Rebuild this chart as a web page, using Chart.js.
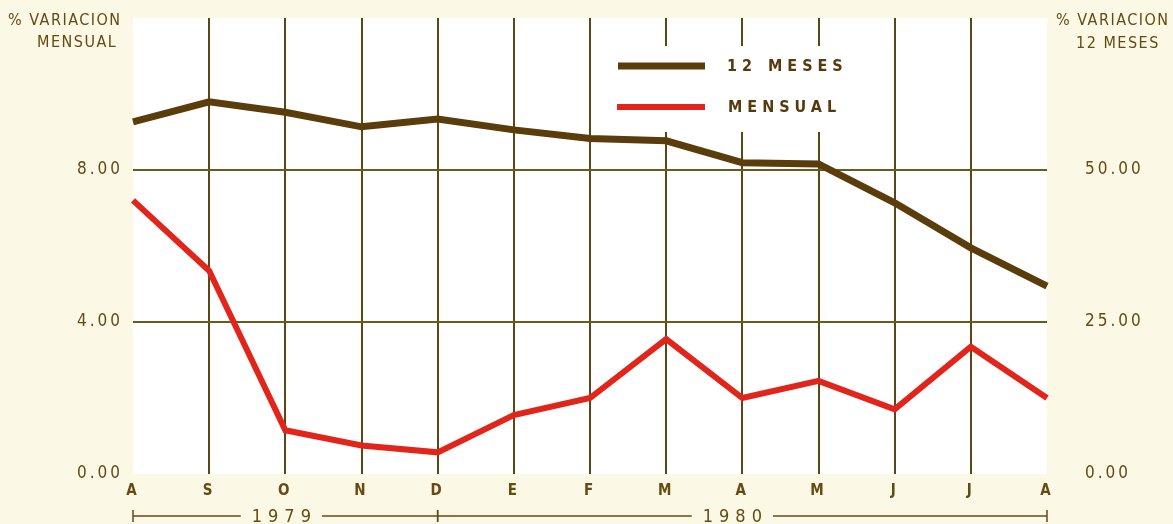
<!DOCTYPE html>
<html>
<head>
<meta charset="utf-8">
<script src="https://cdn.jsdelivr.net/npm/chart.js@4.4.1/dist/chart.umd.min.js"></script>
<style>
  html, body { margin: 0; padding: 0; background: #fcf8e6; }
  #wrap { width: 1173px; height: 524px; }
</style>
</head>
<body>
<div id="wrap"><canvas id="chart" width="1173" height="524"></canvas></div>
<script>
// datos (ago 1979 - ago 1980)
const meses = ["A", "S", "O", "N", "D", "E", "F", "M", "A", "M", "J", "J", "A"];
const doceMeses = [57.9, 61.2, 59.5, 57.1, 58.4, 56.6, 55.2, 54.8, 51.2, 51.0, 44.6, 37.2, 30.9];
const mensual = [7.2, 5.35, 1.15, 0.75, 0.57, 1.55, 2.0, 3.55, 2.0, 2.45, 1.7, 3.35, 2.0];
const ticksMensual = [0, 4, 8];
const ticks12Meses = [0, 25, 50];
const anios = ["1979", "1980"];
const anioDesde = [0, 4];
const anioHasta = [4, 12];

const cafe = "#5b3c0b";
const rojo = "#e1251b";
const tinta = "#654a12";
const grilla = "#5a4716";
const fuente = "'DejaVu Sans Condensed', 'DejaVu Sans', sans-serif";

const fondoPlugin = {
  id: "fondo",
  beforeDraw(chart) {
    const { ctx, chartArea: a } = chart;
    ctx.save();
    ctx.fillStyle = "#fcf8e6";
    ctx.fillRect(0, 0, chart.width, chart.height);
    ctx.fillStyle = "#ffffff";
    ctx.fillRect(a.left, a.top, a.right - a.left, a.bottom - a.top);
    ctx.restore();
    // espaciado de letras para las etiquetas de los ejes
    ctx.letterSpacing = "3px";
  },
};

// leyenda dentro del área, tapa la grilla
const leyendaPlugin = {
  id: "leyenda",
  beforeDatasetsDraw(chart) {
    const { ctx } = chart;
    ctx.save();
    ctx.fillStyle = "#ffffff";
    ctx.fillRect(604, 46, 272, 86);
    ctx.lineCap = "butt";
    ctx.lineWidth = 7;
    ctx.strokeStyle = cafe;
    ctx.beginPath();
    ctx.moveTo(618, 66);
    ctx.lineTo(705, 66);
    ctx.stroke();
    ctx.lineWidth = 6;
    ctx.strokeStyle = rojo;
    ctx.beginPath();
    ctx.moveTo(617, 107);
    ctx.lineTo(705, 107);
    ctx.stroke();
    ctx.fillStyle = "#563a0c";
    ctx.font = "bold 16px " + fuente;
    ctx.textBaseline = "middle";
    ctx.letterSpacing = "5px";
    ctx.fillText("12", 727, 67);
    ctx.fillText("MESES", 768, 67);
    ctx.fillText("MENSUAL", 728, 108);
    ctx.restore();
  },
};

const textosPlugin = {
  id: "textos",
  afterDraw(chart) {
    const { ctx } = chart;
    const x = chart.scales.x;
    ctx.save();
    ctx.fillStyle = tinta;
    ctx.textBaseline = "middle";
    ctx.font = "16px " + fuente;
    ctx.letterSpacing = "1.5px";
    ctx.textAlign = "left";
    ctx.fillText("% VARIACION", 8, 21);
    ctx.fillText("MENSUAL", 37, 43);
    ctx.fillText("% VARIACION", 1056, 21);
    ctx.fillText("12 MESES", 1076, 44);

    // llaves de años
    const y = 516;
    ctx.strokeStyle = tinta;
    ctx.lineWidth = 1.5;
    ctx.font = "18px " + fuente;
    ctx.letterSpacing = "6px";
    ctx.textAlign = "center";
    anios.forEach((anio, i) => {
      const x0 = x.getPixelForValue(anioDesde[i]);
      const x1 = x.getPixelForValue(anioHasta[i]);
      const xm = (x0 + x1) / 2 - (i === 1 ? 10 : 4);
      const w = ctx.measureText(anio).width / 2 + 8;
      ctx.beginPath();
      ctx.moveTo(x0, y);
      ctx.lineTo(xm - w, y);
      ctx.moveTo(xm + w, y);
      ctx.lineTo(x1, y);
      ctx.moveTo(x0, y - 6);
      ctx.lineTo(x0, y + 6);
      ctx.moveTo(x1, y - 6);
      ctx.lineTo(x1, y + 6);
      ctx.stroke();
      ctx.fillText(anio, xm + 3, y + 1);
    });
    ctx.restore();
  },
};

const sinRelleno = (s) => {
  s.paddingTop = 0;
  s.paddingBottom = 0;
};

new Chart(document.getElementById("chart").getContext("2d"), {
  type: "line",
  data: {
    labels: meses,
    datasets: [
      {
        label: "12 MESES",
        data: doceMeses,
        yAxisID: "y1",
        borderColor: cafe,
        borderWidth: 7,
        pointRadius: 0,
        tension: 0,
        borderJoinStyle: "miter",
      },
      {
        label: "MENSUAL",
        data: mensual,
        yAxisID: "y",
        borderColor: rojo,
        borderWidth: 6,
        pointRadius: 0,
        tension: 0,
        borderJoinStyle: "miter",
      },
    ],
  },
  options: {
    responsive: false,
    animation: false,
    layout: { padding: { top: 18, left: 0, right: 0, bottom: 0 } },
    plugins: { legend: { display: false }, tooltip: { enabled: false } },
    scales: {
      x: {
        type: "category",
        offset: false,
        border: { display: false },
        grid: {
          color: (c) => (c.index === 0 || c.index === meses.length - 1 ? "transparent" : grilla),
          lineWidth: 2,
          drawTicks: false,
        },
        ticks: {
          autoSkip: false,
          maxRotation: 0,
          padding: 8,
          color: tinta,
          font: { family: fuente, size: 15, weight: "bold" },
        },
        afterFit: (s) => {
          s.height = 50;
          s.paddingLeft = 0;
          s.paddingRight = 0;
        },
      },
      y: {
        position: "left",
        min: 0,
        max: 12,
        border: { display: false },
        afterBuildTicks: (s) => { s.ticks = ticksMensual.map((v) => ({ value: v })); },
        grid: {
          color: (c) => (c.tick && c.tick.value > 0 ? "#6b5a1d" : "transparent"),
          lineWidth: 2,
          drawTicks: false,
        },
        ticks: {
          padding: 10,
          color: tinta,
          font: { family: fuente, size: 17 },
          callback: (v) => Number(v).toFixed(2),
        },
        afterFit: (s) => {
          s.width = 133;
          sinRelleno(s);
        },
      },
      y1: {
        position: "right",
        min: 0,
        max: 75,
        border: { display: false },
        afterBuildTicks: (s) => { s.ticks = ticks12Meses.map((v) => ({ value: v })); },
        grid: { display: false, drawTicks: false },
        ticks: {
          padding: 38,
          color: tinta,
          font: { family: fuente, size: 17 },
          callback: (v) => Number(v).toFixed(2),
        },
        afterFit: (s) => {
          s.width = 126;
          sinRelleno(s);
        },
      },
    },
  },
  plugins: [fondoPlugin, leyendaPlugin, textosPlugin],
});
</script>
</body>
</html>
